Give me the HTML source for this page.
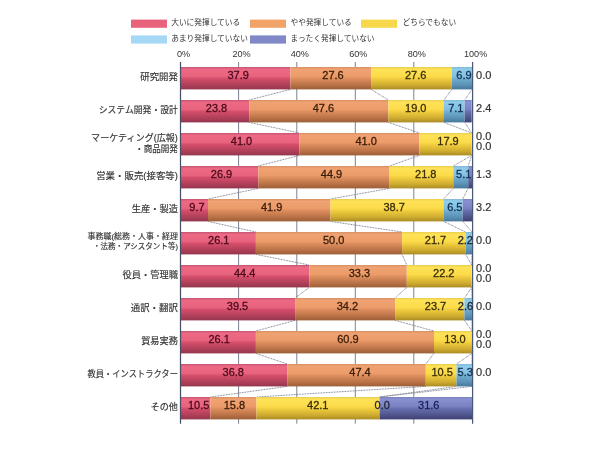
<!DOCTYPE html>
<html lang="ja"><head><meta charset="utf-8"><title>chart</title>
<style>html,body{margin:0;padding:0;background:#fff}svg{display:block}.n{font-family:"Liberation Sans",Arial,sans-serif;font-size:11px;stroke-width:0.3px}.j{font-family:"Liberation Sans","Noto Sans CJK JP","IPAGothic",sans-serif}</style></head><body>
<svg width="600" height="450" viewBox="0 0 600 450">
<defs>
<linearGradient id="gr" x1="0" y1="0" x2="0" y2="1"><stop offset="0" stop-color="#c05670"/><stop offset="0.1" stop-color="#ee6884"/><stop offset="0.42" stop-color="#e8647e"/><stop offset="0.52" stop-color="#d44e6b"/><stop offset="0.8" stop-color="#b04059"/><stop offset="1" stop-color="#94354d"/></linearGradient>
<linearGradient id="go" x1="0" y1="0" x2="0" y2="1"><stop offset="0" stop-color="#d69066"/><stop offset="0.1" stop-color="#f1a272"/><stop offset="0.42" stop-color="#eb9c6a"/><stop offset="0.52" stop-color="#dd8e5e"/><stop offset="0.8" stop-color="#ba7247"/><stop offset="1" stop-color="#9c5e37"/></linearGradient>
<linearGradient id="gy" x1="0" y1="0" x2="0" y2="1"><stop offset="0" stop-color="#e8cc4e"/><stop offset="0.1" stop-color="#ffe258"/><stop offset="0.42" stop-color="#fbdb4a"/><stop offset="0.52" stop-color="#f1ce3e"/><stop offset="0.8" stop-color="#d0ac30"/><stop offset="1" stop-color="#aa8c26"/></linearGradient>
<linearGradient id="gb" x1="0" y1="0" x2="0" y2="1"><stop offset="0" stop-color="#80b8d8"/><stop offset="0.1" stop-color="#90ccea"/><stop offset="0.42" stop-color="#82c0e2"/><stop offset="0.52" stop-color="#70aed2"/><stop offset="0.8" stop-color="#5a92b6"/><stop offset="1" stop-color="#48789a"/></linearGradient>
<linearGradient id="gp" x1="0" y1="0" x2="0" y2="1"><stop offset="0" stop-color="#7a82be"/><stop offset="0.1" stop-color="#8890d0"/><stop offset="0.42" stop-color="#7a82c2"/><stop offset="0.52" stop-color="#676fae"/><stop offset="0.8" stop-color="#4f558c"/><stop offset="1" stop-color="#3e4074"/></linearGradient>
<filter id="bl" x="-5%" y="-5%" width="110%" height="110%"><feGaussianBlur stdDeviation="0.45"/></filter>
</defs>
<rect width="600" height="450" fill="#fff"/>
<g filter="url(#bl)">
<rect x="131" y="19.6" width="36" height="8.2" fill="#e8627c"/>
<text class="j" x="171.2" y="25.4" font-size="7.7" fill="#333">大いに発揮している</text>
<rect x="250" y="19.6" width="36" height="8.2" fill="#f2a468"/>
<text class="j" x="290.5" y="25.4" font-size="7.7" fill="#333">やや発揮している</text>
<rect x="361" y="19.6" width="36" height="8.2" fill="#f8d84c"/>
<text class="j" x="402.5" y="25.4" font-size="7.7" fill="#333">どちらでもない</text>
<rect x="131" y="35.4" width="36" height="8.2" fill="#a4d8f4"/>
<text class="j" x="171.2" y="41.2" font-size="7.7" fill="#333">あまり発揮していない</text>
<rect x="250" y="35.4" width="36" height="8.2" fill="#8088c8"/>
<text class="j" x="290.5" y="41.2" font-size="7.7" fill="#333">まったく発揮していない</text>
<text class="n" x="183.5" y="56.8" text-anchor="middle" fill="#333" style="font-size:9.1px">0%</text>
<text class="n" x="241.6" y="56.8" text-anchor="middle" fill="#333" style="font-size:9.1px">20%</text>
<text class="n" x="299.8" y="56.8" text-anchor="middle" fill="#333" style="font-size:9.1px">40%</text>
<text class="n" x="358.3" y="56.8" text-anchor="middle" fill="#333" style="font-size:9.1px">60%</text>
<text class="n" x="416.8" y="56.8" text-anchor="middle" fill="#333" style="font-size:9.1px">80%</text>
<text class="n" x="475.6" y="56.8" text-anchor="middle" fill="#333" style="font-size:9.1px">100%</text>
<line x1="238.6" y1="62" x2="238.6" y2="423.7" stroke="#626a7c" stroke-width="0.85"/>
<line x1="296.8" y1="62" x2="296.8" y2="423.7" stroke="#626a7c" stroke-width="0.85"/>
<line x1="355.3" y1="62" x2="355.3" y2="423.7" stroke="#626a7c" stroke-width="0.85"/>
<line x1="413.8" y1="62" x2="413.8" y2="423.7" stroke="#626a7c" stroke-width="0.85"/>
<line x1="290.4" y1="89.4" x2="249.2" y2="100.0" stroke="#787c92" stroke-width="1" stroke-dasharray="0.9 0.7"/>
<line x1="371.1" y1="89.4" x2="388.4" y2="100.0" stroke="#787c92" stroke-width="1" stroke-dasharray="0.9 0.7"/>
<line x1="451.8" y1="89.4" x2="443.9" y2="100.0" stroke="#787c92" stroke-width="1" stroke-dasharray="0.9 0.7"/>
<line x1="472.0" y1="89.4" x2="464.7" y2="100.0" stroke="#787c92" stroke-width="1" stroke-dasharray="0.9 0.7"/>
<line x1="249.2" y1="122.4" x2="299.5" y2="133.0" stroke="#787c92" stroke-width="1" stroke-dasharray="0.9 0.7"/>
<line x1="388.4" y1="122.4" x2="419.4" y2="133.0" stroke="#787c92" stroke-width="1" stroke-dasharray="0.9 0.7"/>
<line x1="443.9" y1="122.4" x2="471.7" y2="133.0" stroke="#787c92" stroke-width="1" stroke-dasharray="0.9 0.7"/>
<line x1="464.7" y1="122.4" x2="471.7" y2="133.0" stroke="#787c92" stroke-width="1" stroke-dasharray="0.9 0.7"/>
<line x1="299.5" y1="155.4" x2="258.3" y2="166.0" stroke="#787c92" stroke-width="1" stroke-dasharray="0.9 0.7"/>
<line x1="419.4" y1="155.4" x2="389.5" y2="166.0" stroke="#787c92" stroke-width="1" stroke-dasharray="0.9 0.7"/>
<line x1="471.7" y1="155.4" x2="453.3" y2="166.0" stroke="#787c92" stroke-width="1" stroke-dasharray="0.9 0.7"/>
<line x1="471.7" y1="155.4" x2="468.2" y2="166.0" stroke="#787c92" stroke-width="1" stroke-dasharray="0.9 0.7"/>
<line x1="258.3" y1="188.4" x2="208.0" y2="199.0" stroke="#787c92" stroke-width="1" stroke-dasharray="0.9 0.7"/>
<line x1="389.5" y1="188.4" x2="330.5" y2="199.0" stroke="#787c92" stroke-width="1" stroke-dasharray="0.9 0.7"/>
<line x1="453.3" y1="188.4" x2="443.6" y2="199.0" stroke="#787c92" stroke-width="1" stroke-dasharray="0.9 0.7"/>
<line x1="468.2" y1="188.4" x2="462.6" y2="199.0" stroke="#787c92" stroke-width="1" stroke-dasharray="0.9 0.7"/>
<line x1="208.0" y1="221.4" x2="255.9" y2="232.0" stroke="#787c92" stroke-width="1" stroke-dasharray="0.9 0.7"/>
<line x1="330.5" y1="221.4" x2="402.1" y2="232.0" stroke="#787c92" stroke-width="1" stroke-dasharray="0.9 0.7"/>
<line x1="443.6" y1="221.4" x2="465.6" y2="232.0" stroke="#787c92" stroke-width="1" stroke-dasharray="0.9 0.7"/>
<line x1="462.6" y1="221.4" x2="472.0" y2="232.0" stroke="#787c92" stroke-width="1" stroke-dasharray="0.9 0.7"/>
<line x1="255.9" y1="254.4" x2="309.4" y2="265.0" stroke="#787c92" stroke-width="1" stroke-dasharray="0.9 0.7"/>
<line x1="402.1" y1="254.4" x2="406.8" y2="265.0" stroke="#787c92" stroke-width="1" stroke-dasharray="0.9 0.7"/>
<line x1="465.6" y1="254.4" x2="471.7" y2="265.0" stroke="#787c92" stroke-width="1" stroke-dasharray="0.9 0.7"/>
<line x1="472.0" y1="254.4" x2="471.7" y2="265.0" stroke="#787c92" stroke-width="1" stroke-dasharray="0.9 0.7"/>
<line x1="309.4" y1="287.4" x2="295.1" y2="298.0" stroke="#787c92" stroke-width="1" stroke-dasharray="0.9 0.7"/>
<line x1="406.8" y1="287.4" x2="395.1" y2="298.0" stroke="#787c92" stroke-width="1" stroke-dasharray="0.9 0.7"/>
<line x1="471.7" y1="287.4" x2="464.4" y2="298.0" stroke="#787c92" stroke-width="1" stroke-dasharray="0.9 0.7"/>
<line x1="471.7" y1="287.4" x2="472.0" y2="298.0" stroke="#787c92" stroke-width="1" stroke-dasharray="0.9 0.7"/>
<line x1="295.1" y1="320.4" x2="255.9" y2="331.0" stroke="#787c92" stroke-width="1" stroke-dasharray="0.9 0.7"/>
<line x1="395.1" y1="320.4" x2="434.0" y2="331.0" stroke="#787c92" stroke-width="1" stroke-dasharray="0.9 0.7"/>
<line x1="464.4" y1="320.4" x2="472.0" y2="331.0" stroke="#787c92" stroke-width="1" stroke-dasharray="0.9 0.7"/>
<line x1="472.0" y1="320.4" x2="472.0" y2="331.0" stroke="#787c92" stroke-width="1" stroke-dasharray="0.9 0.7"/>
<line x1="255.9" y1="353.4" x2="287.2" y2="364.0" stroke="#787c92" stroke-width="1" stroke-dasharray="0.9 0.7"/>
<line x1="434.0" y1="353.4" x2="425.8" y2="364.0" stroke="#787c92" stroke-width="1" stroke-dasharray="0.9 0.7"/>
<line x1="472.0" y1="353.4" x2="456.5" y2="364.0" stroke="#787c92" stroke-width="1" stroke-dasharray="0.9 0.7"/>
<line x1="472.0" y1="353.4" x2="472.0" y2="364.0" stroke="#787c92" stroke-width="1" stroke-dasharray="0.9 0.7"/>
<line x1="287.2" y1="386.4" x2="210.3" y2="397.0" stroke="#787c92" stroke-width="1" stroke-dasharray="0.9 0.7"/>
<line x1="425.8" y1="386.4" x2="256.5" y2="397.0" stroke="#787c92" stroke-width="1" stroke-dasharray="0.9 0.7"/>
<line x1="456.5" y1="386.4" x2="379.6" y2="397.0" stroke="#787c92" stroke-width="1" stroke-dasharray="0.9 0.7"/>
<line x1="472.0" y1="386.4" x2="379.6" y2="397.0" stroke="#787c92" stroke-width="1" stroke-dasharray="0.9 0.7"/>
<rect x="180.2" y="67.0" width="110.2" height="22.4" fill="url(#gr)"/>
<rect x="290.4" y="67.0" width="80.7" height="22.4" fill="url(#go)"/>
<rect x="371.1" y="67.0" width="80.7" height="22.4" fill="url(#gy)"/>
<rect x="451.8" y="67.0" width="20.2" height="22.4" fill="url(#gb)"/>
<rect x="180.2" y="100.0" width="69.0" height="22.4" fill="url(#gr)"/>
<rect x="249.2" y="100.0" width="139.2" height="22.4" fill="url(#go)"/>
<rect x="388.4" y="100.0" width="55.6" height="22.4" fill="url(#gy)"/>
<rect x="443.9" y="100.0" width="20.8" height="22.4" fill="url(#gb)"/>
<rect x="464.7" y="100.0" width="7.0" height="22.4" fill="url(#gp)"/>
<rect x="180.2" y="133.0" width="119.3" height="22.4" fill="url(#gr)"/>
<rect x="299.5" y="133.0" width="119.9" height="22.4" fill="url(#go)"/>
<rect x="419.4" y="133.0" width="52.3" height="22.4" fill="url(#gy)"/>
<rect x="180.2" y="166.0" width="78.1" height="22.4" fill="url(#gr)"/>
<rect x="258.3" y="166.0" width="131.3" height="22.4" fill="url(#go)"/>
<rect x="389.5" y="166.0" width="63.7" height="22.4" fill="url(#gy)"/>
<rect x="453.3" y="166.0" width="14.9" height="22.4" fill="url(#gb)"/>
<rect x="468.2" y="166.0" width="3.8" height="22.4" fill="url(#gp)"/>
<rect x="180.2" y="199.0" width="27.8" height="22.4" fill="url(#gr)"/>
<rect x="208.0" y="199.0" width="122.5" height="22.4" fill="url(#go)"/>
<rect x="330.5" y="199.0" width="113.2" height="22.4" fill="url(#gy)"/>
<rect x="443.6" y="199.0" width="19.0" height="22.4" fill="url(#gb)"/>
<rect x="462.6" y="199.0" width="9.4" height="22.4" fill="url(#gp)"/>
<rect x="180.2" y="232.0" width="75.7" height="22.4" fill="url(#gr)"/>
<rect x="255.9" y="232.0" width="146.2" height="22.4" fill="url(#go)"/>
<rect x="402.1" y="232.0" width="63.5" height="22.4" fill="url(#gy)"/>
<rect x="465.6" y="232.0" width="6.4" height="22.4" fill="url(#gb)"/>
<rect x="180.2" y="265.0" width="129.2" height="22.4" fill="url(#gr)"/>
<rect x="309.4" y="265.0" width="97.4" height="22.4" fill="url(#go)"/>
<rect x="406.8" y="265.0" width="64.9" height="22.4" fill="url(#gy)"/>
<rect x="180.2" y="298.0" width="114.9" height="22.4" fill="url(#gr)"/>
<rect x="295.1" y="298.0" width="100.0" height="22.4" fill="url(#go)"/>
<rect x="395.1" y="298.0" width="69.3" height="22.4" fill="url(#gy)"/>
<rect x="464.4" y="298.0" width="7.6" height="22.4" fill="url(#gb)"/>
<rect x="180.2" y="331.0" width="75.7" height="22.4" fill="url(#gr)"/>
<rect x="255.9" y="331.0" width="178.1" height="22.4" fill="url(#go)"/>
<rect x="434.0" y="331.0" width="38.0" height="22.4" fill="url(#gy)"/>
<rect x="180.2" y="364.0" width="107.0" height="22.4" fill="url(#gr)"/>
<rect x="287.2" y="364.0" width="138.6" height="22.4" fill="url(#go)"/>
<rect x="425.8" y="364.0" width="30.7" height="22.4" fill="url(#gy)"/>
<rect x="456.5" y="364.0" width="15.5" height="22.4" fill="url(#gb)"/>
<rect x="180.2" y="397.0" width="30.1" height="22.4" fill="url(#gr)"/>
<rect x="210.3" y="397.0" width="46.2" height="22.4" fill="url(#go)"/>
<rect x="256.5" y="397.0" width="123.1" height="22.4" fill="url(#gy)"/>
<rect x="379.6" y="397.0" width="92.4" height="22.4" fill="url(#gp)"/>
<line x1="180.5" y1="62" x2="180.5" y2="423.7" stroke="#4a5064" stroke-width="1.25"/>
<line x1="472.6" y1="62" x2="472.6" y2="423.7" stroke="#4a5a78" stroke-width="1.25"/>
<text class="j" x="177.9" y="79.5" text-anchor="end" font-size="9.2" fill="#333" stroke="#333" stroke-width="0.15" textLength="37.6" lengthAdjust="spacingAndGlyphs">研究開発</text>
<text class="n" x="238.2" y="79.4" text-anchor="middle" fill="#4a0a1c" stroke="#4a0a1c">37.9</text>
<text class="n" x="333.0" y="79.4" text-anchor="middle" fill="#3a1c08" stroke="#3a1c08">27.6</text>
<text class="n" x="415.7" y="79.4" text-anchor="middle" fill="#3a2e08" stroke="#3a2e08">27.6</text>
<text class="n" x="464.0" y="79.4" text-anchor="middle" fill="#123050" stroke="#123050">6.9</text>
<text class="n" x="476.1" y="79.4" fill="#333" stroke="#333" style="stroke-width:0.2px">0.0</text>
<text class="j" x="177.9" y="112.5" text-anchor="end" font-size="9.2" fill="#333" stroke="#333" stroke-width="0.15" textLength="79.2" lengthAdjust="spacingAndGlyphs">システム開発・設計</text>
<text class="n" x="216.5" y="112.4" text-anchor="middle" fill="#4a0a1c" stroke="#4a0a1c">23.8</text>
<text class="n" x="323.4" y="112.4" text-anchor="middle" fill="#3a1c08" stroke="#3a1c08">47.6</text>
<text class="n" x="415.8" y="112.4" text-anchor="middle" fill="#3a2e08" stroke="#3a2e08">19.0</text>
<text class="n" x="455.8" y="112.4" text-anchor="middle" fill="#123050" stroke="#123050">7.1</text>
<text class="n" x="476.1" y="112.4" fill="#333" stroke="#333" style="stroke-width:0.2px">2.4</text>
<text class="j" x="177.9" y="140.7" text-anchor="end" font-size="9.2" fill="#333" stroke="#333" stroke-width="0.15" textLength="86.8" lengthAdjust="spacingAndGlyphs">マーケティング(広報)</text>
<text class="j" x="177.9" y="151.6" text-anchor="end" font-size="9.2" fill="#333" stroke="#333" stroke-width="0.15" textLength="42.8" lengthAdjust="spacingAndGlyphs">・商品開発</text>
<text class="n" x="241.5" y="145.4" text-anchor="middle" fill="#4a0a1c" stroke="#4a0a1c">41.0</text>
<text class="n" x="366.2" y="145.4" text-anchor="middle" fill="#3a1c08" stroke="#3a1c08">41.0</text>
<text class="n" x="448.0" y="145.4" text-anchor="middle" fill="#3a2e08" stroke="#3a2e08">17.9</text>
<text class="n" x="476.1" y="139.9" fill="#333" stroke="#333" style="stroke-width:0.2px">0.0</text>
<text class="n" x="476.1" y="149.9" fill="#333" stroke="#333" style="stroke-width:0.2px">0.0</text>
<text class="j" x="177.9" y="178.5" text-anchor="end" font-size="9.2" fill="#333" stroke="#333" stroke-width="0.15" textLength="81.7" lengthAdjust="spacingAndGlyphs">営業・販売(接客等)</text>
<text class="n" x="221.5" y="178.4" text-anchor="middle" fill="#4a0a1c" stroke="#4a0a1c">26.9</text>
<text class="n" x="331.5" y="178.4" text-anchor="middle" fill="#3a1c08" stroke="#3a1c08">44.9</text>
<text class="n" x="425.8" y="178.4" text-anchor="middle" fill="#3a2e08" stroke="#3a2e08">21.8</text>
<text class="n" x="463.7" y="178.4" text-anchor="middle" fill="#123050" stroke="#123050">5.1</text>
<text class="n" x="476.1" y="178.4" fill="#333" stroke="#333" style="stroke-width:0.2px">1.3</text>
<text class="j" x="177.9" y="211.5" text-anchor="end" font-size="9.2" fill="#333" stroke="#333" stroke-width="0.15" textLength="46.2" lengthAdjust="spacingAndGlyphs">生産・製造</text>
<text class="n" x="197.0" y="211.4" text-anchor="middle" fill="#4a0a1c" stroke="#4a0a1c">9.7</text>
<text class="n" x="271.7" y="211.4" text-anchor="middle" fill="#3a1c08" stroke="#3a1c08">41.9</text>
<text class="n" x="394.2" y="211.4" text-anchor="middle" fill="#3a2e08" stroke="#3a2e08">38.7</text>
<text class="n" x="454.8" y="211.4" text-anchor="middle" fill="#123050" stroke="#123050">6.5</text>
<text class="n" x="476.1" y="211.4" fill="#333" stroke="#333" style="stroke-width:0.2px">3.2</text>
<text class="j" x="177.9" y="239.0" text-anchor="end" font-size="7.9" fill="#333" stroke="#333" stroke-width="0.15" textLength="90.4" lengthAdjust="spacingAndGlyphs">事務職(総務・人事・経理</text>
<text class="j" x="177.9" y="248.6" text-anchor="end" font-size="7.9" fill="#333" stroke="#333" stroke-width="0.15" textLength="84.8" lengthAdjust="spacingAndGlyphs">・法務・アシスタント等)</text>
<text class="n" x="218.8" y="244.4" text-anchor="middle" fill="#4a0a1c" stroke="#4a0a1c">26.1</text>
<text class="n" x="333.7" y="244.4" text-anchor="middle" fill="#3a1c08" stroke="#3a1c08">50.0</text>
<text class="n" x="435.5" y="244.4" text-anchor="middle" fill="#3a2e08" stroke="#3a2e08">21.7</text>
<text class="n" x="465.3" y="244.4" text-anchor="middle" fill="#1e2430" stroke="#1e2430">2.2</text>
<text class="n" x="476.1" y="244.4" fill="#333" stroke="#333" style="stroke-width:0.2px">0.0</text>
<text class="j" x="177.9" y="277.5" text-anchor="end" font-size="9.2" fill="#333" stroke="#333" stroke-width="0.15" textLength="55.4" lengthAdjust="spacingAndGlyphs">役員・管理職</text>
<text class="n" x="244.7" y="277.4" text-anchor="middle" fill="#4a0a1c" stroke="#4a0a1c">44.4</text>
<text class="n" x="359.4" y="277.4" text-anchor="middle" fill="#3a1c08" stroke="#3a1c08">33.3</text>
<text class="n" x="443.8" y="277.4" text-anchor="middle" fill="#3a2e08" stroke="#3a2e08">22.2</text>
<text class="n" x="476.1" y="271.9" fill="#333" stroke="#333" style="stroke-width:0.2px">0.0</text>
<text class="n" x="476.1" y="281.9" fill="#333" stroke="#333" style="stroke-width:0.2px">0.0</text>
<text class="j" x="177.9" y="310.5" text-anchor="end" font-size="9.2" fill="#333" stroke="#333" stroke-width="0.15" textLength="47.2" lengthAdjust="spacingAndGlyphs">通訳・翻訳</text>
<text class="n" x="237.5" y="310.4" text-anchor="middle" fill="#4a0a1c" stroke="#4a0a1c">39.5</text>
<text class="n" x="347.4" y="310.4" text-anchor="middle" fill="#3a1c08" stroke="#3a1c08">34.2</text>
<text class="n" x="435.5" y="310.4" text-anchor="middle" fill="#3a2e08" stroke="#3a2e08">23.7</text>
<text class="n" x="465.5" y="310.4" text-anchor="middle" fill="#1e2430" stroke="#1e2430">2.6</text>
<text class="n" x="476.1" y="310.4" fill="#333" stroke="#333" style="stroke-width:0.2px">0.0</text>
<text class="j" x="177.9" y="343.5" text-anchor="end" font-size="9.2" fill="#333" stroke="#333" stroke-width="0.15" textLength="36.7" lengthAdjust="spacingAndGlyphs">貿易実務</text>
<text class="n" x="219.2" y="343.4" text-anchor="middle" fill="#4a0a1c" stroke="#4a0a1c">26.1</text>
<text class="n" x="347.9" y="343.4" text-anchor="middle" fill="#3a1c08" stroke="#3a1c08">60.9</text>
<text class="n" x="455.0" y="343.4" text-anchor="middle" fill="#3a2e08" stroke="#3a2e08">13.0</text>
<text class="n" x="476.1" y="337.9" fill="#333" stroke="#333" style="stroke-width:0.2px">0.0</text>
<text class="n" x="476.1" y="347.9" fill="#333" stroke="#333" style="stroke-width:0.2px">0.0</text>
<text class="j" x="177.9" y="376.5" text-anchor="end" font-size="9.2" fill="#333" stroke="#333" stroke-width="0.15" textLength="90.4" lengthAdjust="spacingAndGlyphs">教員・インストラクター</text>
<text class="n" x="233.3" y="376.4" text-anchor="middle" fill="#4a0a1c" stroke="#4a0a1c">36.8</text>
<text class="n" x="360.0" y="376.4" text-anchor="middle" fill="#3a1c08" stroke="#3a1c08">47.4</text>
<text class="n" x="442.2" y="376.4" text-anchor="middle" fill="#3a2e08" stroke="#3a2e08">10.5</text>
<text class="n" x="465.2" y="376.4" text-anchor="middle" fill="#123050" stroke="#123050">5.3</text>
<text class="n" x="476.1" y="376.4" fill="#333" stroke="#333" style="stroke-width:0.2px">0.0</text>
<text class="j" x="177.9" y="409.5" text-anchor="end" font-size="9.2" fill="#333" stroke="#333" stroke-width="0.15" textLength="27.4" lengthAdjust="spacingAndGlyphs">その他</text>
<text class="n" x="198.7" y="409.4" text-anchor="middle" fill="#4a0a1c" stroke="#4a0a1c">10.5</text>
<text class="n" x="234.4" y="409.4" text-anchor="middle" fill="#3a1c08" stroke="#3a1c08">15.8</text>
<text class="n" x="317.8" y="409.4" text-anchor="middle" fill="#3a2e08" stroke="#3a2e08">42.1</text>
<text class="n" x="382.2" y="409.4" text-anchor="middle" fill="#1e2430" stroke="#1e2430">0.0</text>
<text class="n" x="428.8" y="409.4" text-anchor="middle" fill="#1c2058" stroke="#1c2058">31.6</text>
</g>
</svg></body></html>
